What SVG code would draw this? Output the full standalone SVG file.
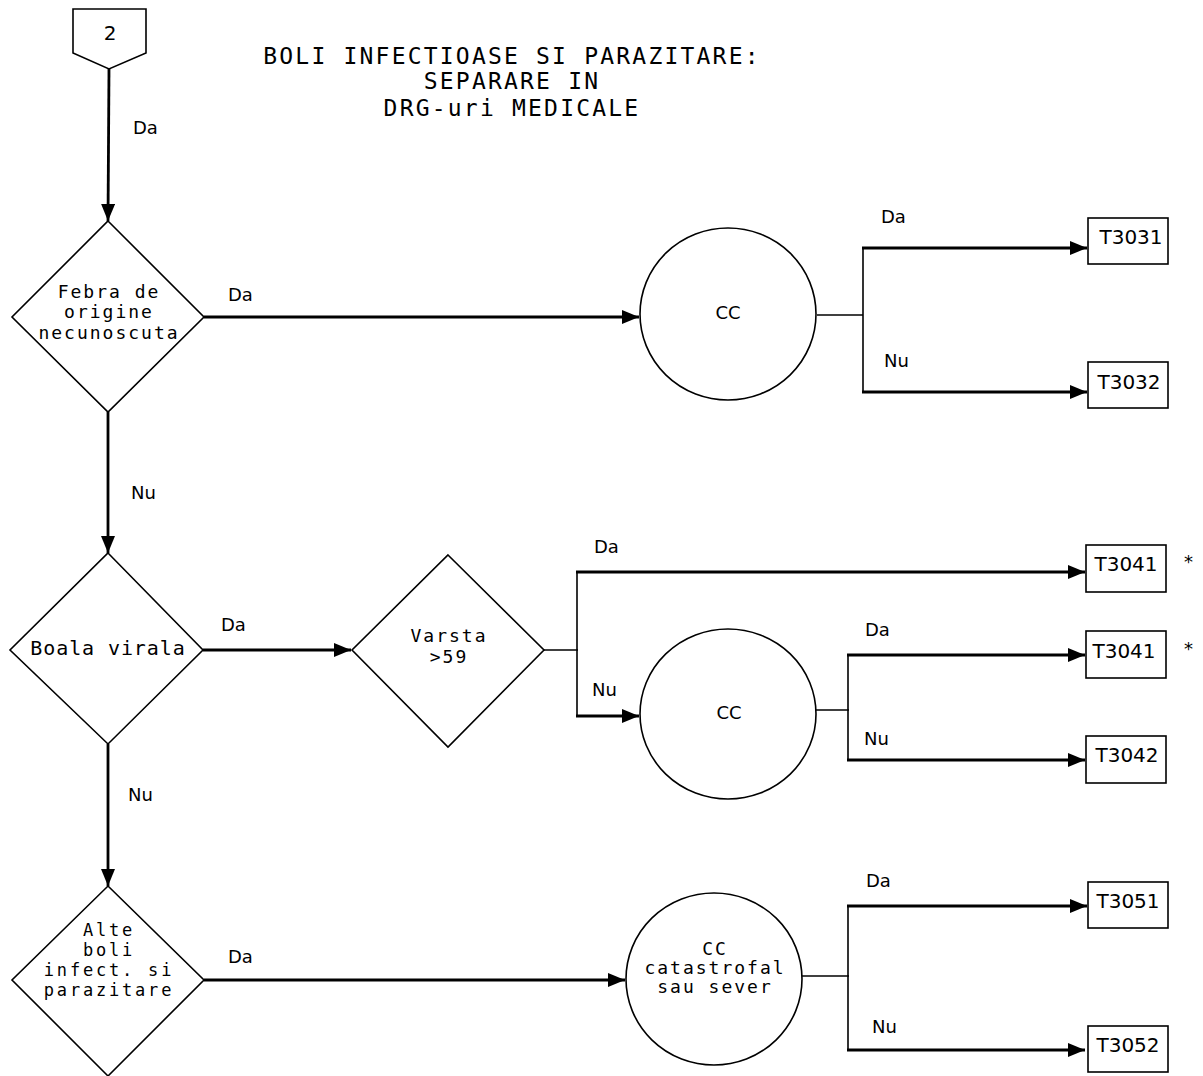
<svg xmlns="http://www.w3.org/2000/svg" width="1203" height="1076" viewBox="0 0 1203 1076">
<defs>
<marker id="arr" markerUnits="userSpaceOnUse" markerWidth="18" markerHeight="14" refX="17" refY="7" orient="auto">
<path d="M0,0 L17,7 L0,14 z" fill="#000"/>
</marker>
<style>
.shape{fill:#fff;stroke:#000;stroke-width:1.6}
.arrow{fill:none;stroke:#000;stroke-width:2.8;marker-end:url(#arr)}
.line{fill:none;stroke:#000;stroke-width:1.6}
.mono{font-family:"DejaVu Sans Mono",monospace;font-size:20px;letter-spacing:0.9px;text-anchor:middle;fill:#000}
.tight{font-size:18px;letter-spacing:2px}
.small{font-size:17px;letter-spacing:2.8px}
.title{font-family:"DejaVu Sans Mono",monospace;font-size:23px;letter-spacing:2.2px;text-anchor:middle;fill:#000}
.lbl{font-family:"DejaVu Sans",sans-serif;font-size:18px;fill:#000}
.box{font-family:"DejaVu Sans",sans-serif;font-size:20px;text-anchor:middle;fill:#000}
</style>
</defs>
<rect width="1203" height="1076" fill="#fff"/>

<g id="title">
<text class="title" x="512" y="64">BOLI INFECTIOASE SI PARAZITARE:</text>
<text class="title" x="512" y="89">SEPARARE IN</text>
<text class="title" x="512" y="116">DRG-uri MEDICALE</text>
</g>

<g id="connectors">
<line class="arrow" x1="109" y1="69" x2="108" y2="221"/>
<line class="arrow" x1="204" y1="317" x2="639" y2="317"/>
<line class="arrow" x1="108" y1="412" x2="108" y2="553"/>
<line class="arrow" x1="203" y1="650" x2="351" y2="650"/>
<line class="arrow" x1="108" y1="744" x2="108" y2="886"/>
<line class="arrow" x1="204" y1="980" x2="625" y2="980"/>
<line class="line" x1="817" y1="315" x2="863" y2="315"/>
<line class="line" x1="863" y1="248" x2="863" y2="392"/>
<line class="arrow" x1="862" y1="248" x2="1087" y2="248"/>
<line class="arrow" x1="862" y1="392" x2="1087" y2="392"/>
<line class="line" x1="544" y1="650" x2="578" y2="650"/>
<line class="line" x1="577" y1="572" x2="577" y2="716"/>
<line class="arrow" x1="576" y1="572" x2="1085" y2="572"/>
<line class="arrow" x1="576" y1="716" x2="639" y2="716"/>
<line class="line" x1="816" y1="710" x2="849" y2="710"/>
<line class="line" x1="848" y1="655" x2="848" y2="760"/>
<line class="arrow" x1="847" y1="655" x2="1085" y2="655"/>
<line class="arrow" x1="847" y1="760" x2="1085" y2="760"/>
<line class="line" x1="802" y1="976" x2="849" y2="976"/>
<line class="line" x1="848" y1="906" x2="848" y2="1050"/>
<line class="arrow" x1="847" y1="906" x2="1087" y2="906"/>
<line class="arrow" x1="847" y1="1050" x2="1085" y2="1050"/>

<text class="lbl" x="133" y="134">Da</text>
<text class="lbl" x="228" y="301">Da</text>
<text class="lbl" x="881" y="223">Da</text>
<text class="lbl" x="884" y="367">Nu</text>
<text class="lbl" x="131" y="499">Nu</text>
<text class="lbl" x="221" y="631">Da</text>
<text class="lbl" x="594" y="553">Da</text>
<text class="lbl" x="592" y="696">Nu</text>
<text class="lbl" x="865" y="636">Da</text>
<text class="lbl" x="864" y="745">Nu</text>
<text class="lbl" x="128" y="801">Nu</text>
<text class="lbl" x="228" y="963">Da</text>
<text class="lbl" x="866" y="887">Da</text>
<text class="lbl" x="872" y="1033">Nu</text>
</g>

<g id="start">
<polygon class="shape" points="73,9 146,9 146,53 109,69 73,53"/>
<text class="box" x="110" y="40">2</text>
</g>

<g id="d-febra">
<polygon class="shape" points="108,221 204,317 108,412 12,317"/>
<text class="mono tight" x="109" y="298">Febra de</text>
<text class="mono tight" x="109" y="318">origine</text>
<text class="mono tight" x="109" y="339">necunoscuta</text>
</g>

<g id="cc1">
<ellipse class="shape" cx="728" cy="314" rx="88" ry="86"/>
<text class="lbl" x="728" y="319" text-anchor="middle">CC</text>
</g>

<g id="t3031">
<rect class="shape" x="1088" y="218" width="80" height="46"/>
<text class="box" x="1131" y="244">T3031</text>
</g>
<g id="t3032">
<rect class="shape" x="1088" y="362" width="80" height="46"/>
<text class="box" x="1129" y="389">T3032</text>
</g>

<g id="d-virala">
<polygon class="shape" points="108,553 203,650 108,744 10,650"/>
<text class="mono" x="108" y="655">Boala virala</text>
</g>

<g id="d-varsta">
<polygon class="shape" points="448,555 544,650 448,747 352,650"/>
<text class="mono tight" x="449" y="642">Varsta</text>
<text class="mono tight" x="449" y="663">&gt;59</text>
</g>

<g id="t3041a">
<rect class="shape" x="1086" y="545" width="80" height="47"/>
<text class="box" x="1126" y="571">T3041</text>
<text class="lbl" x="1184" y="568">*</text>
</g>

<g id="cc2">
<ellipse class="shape" cx="728" cy="714" rx="88" ry="85"/>
<text class="lbl" x="729" y="719" text-anchor="middle">CC</text>
</g>

<g id="t3041b">
<rect class="shape" x="1086" y="631" width="80" height="47"/>
<text class="box" x="1124" y="658">T3041</text>
<text class="lbl" x="1184" y="655">*</text>
</g>
<g id="t3042">
<rect class="shape" x="1086" y="736" width="80" height="47"/>
<text class="box" x="1127" y="762">T3042</text>
</g>

<g id="d-alte">
<polygon class="shape" points="108,886 204,980 108,1076 12,980"/>
<text class="mono small" x="109" y="936">Alte</text>
<text class="mono small" x="109" y="956">boli</text>
<text class="mono small" x="109" y="976">infect. si</text>
<text class="mono small" x="109" y="996">parazitare</text>
</g>

<g id="cc3">
<ellipse class="shape" cx="714" cy="979" rx="88" ry="86"/>
<text class="mono tight" x="715" y="955">CC</text>
<text class="mono tight" x="715" y="974">catastrofal</text>
<text class="mono tight" x="715" y="993">sau sever</text>
</g>

<g id="t3051">
<rect class="shape" x="1088" y="882" width="80" height="46"/>
<text class="box" x="1128" y="908">T3051</text>
</g>
<g id="t3052">
<rect class="shape" x="1088" y="1026" width="80" height="46"/>
<text class="box" x="1128" y="1052">T3052</text>
</g>
</svg>
